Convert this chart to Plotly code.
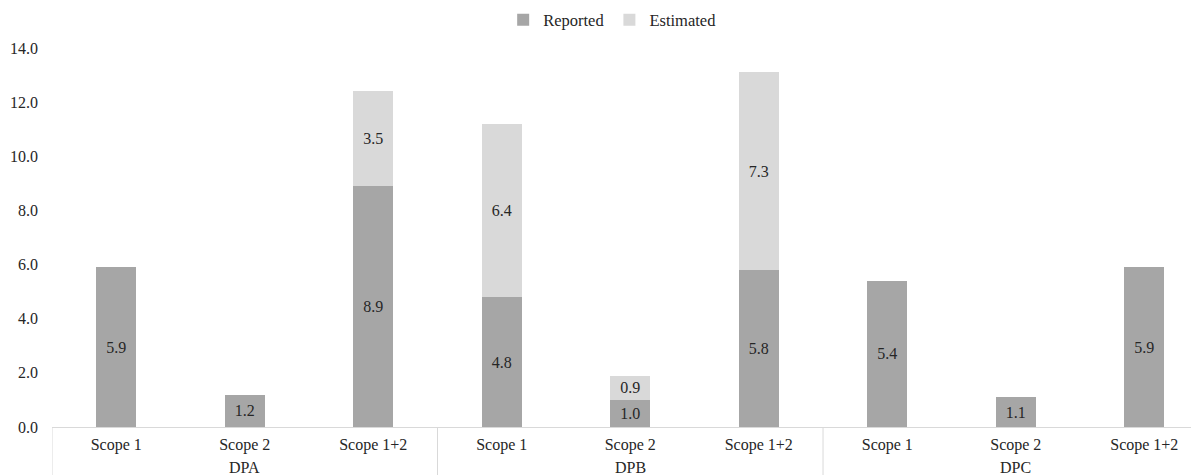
import plotly.graph_objects as go

groups = ["DPA", "DPA", "DPA", "DPB", "DPB", "DPB", "DPC", "DPC", "DPC"]
scopes = ["Scope 1", "Scope 2", "Scope 1+2"] * 3
reported = [5.9, 1.2, 8.9, 4.8, 1.0, 5.8, 5.4, 1.1, 5.9]
estimated = [None, None, 3.5, 6.4, 0.9, 7.3, None, None, None]
y_ticks = [0, 2, 4, 6, 8, 10, 12, 14]

FONT = "Liberation Serif, Times New Roman, serif"
TXT = "#262626"
FS = 16
GRID = "#d9d9d9"

xpos = list(range(len(scopes)))

fig = go.Figure()
fig.add_trace(go.Bar(
    name="Reported", x=xpos, y=reported,
    marker=dict(color="#a6a6a6", line=dict(width=0)),
    width=0.31,
    text=[f"{v:.1f}" for v in reported], textposition="inside",
    insidetextanchor="middle", textangle=0,
    textfont=dict(family=FONT, size=FS, color=TXT),
))
fig.add_trace(go.Bar(
    name="Estimated", x=xpos, y=estimated,
    marker=dict(color="#d9d9d9", line=dict(width=0)),
    width=0.31,
    text=[f"{v:.1f}" if v is not None else "" for v in estimated], textposition="inside",
    insidetextanchor="middle", textangle=0,
    textfont=dict(family=FONT, size=FS, color=TXT),
))

# group labels and dividers derived from the group list
group_names = []
for g in groups:
    if g not in group_names:
        group_names.append(g)
annotations = []
shapes = []
bounds = [-0.5]
for g in group_names:
    idx = [i for i, gg in enumerate(groups) if gg == g]
    annotations.append(dict(
        x=sum(idx) / len(idx), xref="x", y=-40 / 379, yref="paper",
        text=g, showarrow=False, xanchor="center", yanchor="middle",
        font=dict(family=FONT, size=FS, color=TXT),
    ))
    bounds.append(max(idx) + 0.5)
for b in bounds:
    shapes.append(dict(
        type="line", xref="x", yref="paper", x0=b, x1=b, y0=0, y1=-60 / 379,
        line=dict(color=GRID, width=1), layer="above",
    ))

fig.update_layout(
    width=1199, height=475,
    barmode="stack",
    plot_bgcolor="white", paper_bgcolor="white",
    margin=dict(l=44, r=0, t=40, b=56, autoexpand=False),
    font=dict(family=FONT, size=FS, color=TXT),
    showlegend=True,
    legend=dict(orientation="h", x=0.485, xanchor="center",
                y=1 - 12 / 475, yanchor="middle", yref="container",
                font=dict(family=FONT, size=16.5, color=TXT), traceorder="normal",
                itemwidth=30, tracegroupgap=0),
    xaxis=dict(
        range=[-0.5, 8.488], automargin=False,
        tickvals=xpos, ticktext=scopes,
        showline=True, linecolor=GRID, linewidth=1,
        ticks="", showgrid=False, zeroline=False, ticklabelstandoff=3,
        tickfont=dict(family=FONT, size=FS, color=TXT),
    ),
    yaxis=dict(
        range=[0, 14], tickvals=y_ticks, tickformat=".1f", automargin=False,
        showgrid=False, zeroline=False, showline=False, ticks="",
        ticklabelstandoff=13,
        tickfont=dict(family=FONT, size=FS, color=TXT),
    ),
    annotations=annotations,
    shapes=shapes,
    uniformtext=dict(minsize=10, mode="show"),
)

fig.write_html("out.html")
